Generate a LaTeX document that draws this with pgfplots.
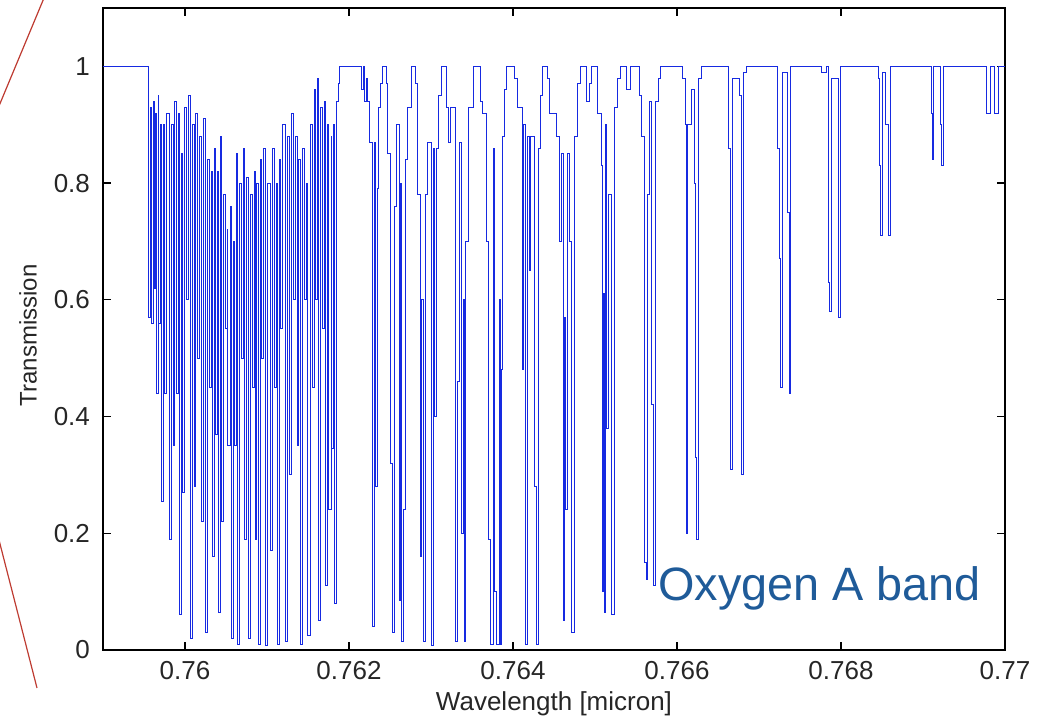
\documentclass[border=0pt]{standalone}
\usepackage{pgfplots}
\pgfplotsset{compat=1.18}
\usepackage{fontspec}
\setmainfont{Liberation Sans}
\definecolor{specblue}{RGB}{22,42,225}
\definecolor{labelblue}{RGB}{31,91,153}
\definecolor{slidered}{RGB}{190,60,50}
\begin{document}
\begin{tikzpicture}
\useasboundingbox (-51.5pt,-34pt) rectangle (468.5pt,325pt);
\begin{axis}[
  at={(0pt,0pt)}, anchor=south west,
  scale only axis, width=451pt, height=321pt,
  xmin=0.759, xmax=0.770, ymin=0, ymax=1.1,
  xtick={0.760,0.762,0.764,0.766,0.768,0.770},
  xticklabels={0.76,0.762,0.764,0.766,0.768,0.77},
  ytick={0,0.2,0.4,0.6,0.8,1},
  yticklabels={0,0.2,0.4,0.6,0.8,1},
  scaled x ticks=false, scaled y ticks=false,
  /pgf/number format/assume math mode=true,
  tick align=inside, major tick length=4pt,
  tick style={black, line width=0.6pt},
  axis line style={black, line width=0.7pt},
  ticklabel style={font=\fontsize{13}{15}\selectfont, text=black!85},
  xticklabel style={yshift=-2pt},
  yticklabel style={xshift=-3pt},
  xlabel={Wavelength [micron]}, ylabel={Transmission},
  xlabel style={at={(axis description cs:0.5,-0.083)}, anchor=center, font=\fontsize{13}{15}\selectfont, text=black!85},
  ylabel style={at={(axis description cs:-0.083,0.49)}, anchor=center, font=\fontsize{12}{14}\selectfont, text=black!85},
  clip=true,
]
\addplot[const plot, color=specblue, line width=0.5pt] table {
x y
0.7590000 1.00
0.7595488 0.57
0.7595732 0.93
0.7595854 0.56
0.7596098 0.94
0.7596220 0.62
0.7596463 0.92
0.7596524 0.44
0.7596768 0.95
0.7596829 0.56
0.7597073 0.90
0.7597134 0.255
0.7597378 0.90
0.7597561 0.44
0.7597805 0.92
0.7598049 0.19
0.7598293 0.90
0.7598537 0.35
0.7598780 0.94
0.7598963 0.44
0.7599207 0.92
0.7599390 0.06
0.7599634 0.85
0.7599756 0.27
0.7600000 0.93
0.7600183 0.60
0.7600427 0.95
0.7600671 0.02
0.7600915 0.90
0.7601098 0.28
0.7601341 0.92
0.7601585 0.50
0.7601829 0.88
0.7602073 0.22
0.7602317 0.91
0.7602500 0.03
0.7602744 0.84
0.7602927 0.45
0.7603171 0.82
0.7603354 0.16
0.7603598 0.86
0.7603780 0.37
0.7604024 0.82
0.7604146 0.065
0.7604390 0.88
0.7604512 0.22
0.7604756 0.78
0.7604939 0.55
0.7605183 0.72
0.7605244 0.35
0.7605488 0.76
0.7605610 0.02
0.7605854 0.70
0.7605976 0.35
0.7606220 0.85
0.7606463 0.01
0.7606707 0.80
0.7606951 0.50
0.7607195 0.86
0.7607317 0.19
0.7607561 0.81
0.7607744 0.02
0.7607988 0.78
0.7608171 0.45
0.7608415 0.82
0.7608537 0.19
0.7608780 0.80
0.7608963 0.01
0.7609207 0.84
0.7609390 0.50
0.7609634 0.86
0.7609878 0.007
0.7610122 0.80
0.7610366 0.17
0.7610610 0.86
0.7610854 0.45
0.7611098 0.80
0.7611280 0.01
0.7611524 0.84
0.7611707 0.55
0.7611951 0.90
0.7612317 0.015
0.7612561 0.88
0.7612744 0.30
0.7612988 0.92
0.7613171 0.60
0.7613415 0.88
0.7613659 0.35
0.7613902 0.84
0.7614146 0.01
0.7614390 0.86
0.7614573 0.60
0.7614817 0.80
0.7615000 0.025
0.7615244 0.90
0.7615488 0.45
0.7615732 0.96
0.7615854 0.60
0.7616098 0.98
0.7616341 0.05
0.7616585 0.93
0.7616829 0.55
0.7617073 0.94
0.7617195 0.11
0.7617439 0.90
0.7617561 0.24
0.7617805 0.88
0.7617866 0.345
0.7618110 0.90
0.7618232 0.08
0.7618476 0.94
0.7618659 0.97
0.7618902 1.00
0.7621585 0.96
0.7621829 1.00
0.7621951 0.94
0.7622195 0.98
0.7622317 0.94
0.7622561 0.87
0.7622866 0.04
0.7623110 0.87
0.7623232 0.28
0.7623415 0.79
0.7623598 0.93
0.7623902 0.97
0.7624146 1.00
0.7624634 0.97
0.7624756 0.85
0.7625061 0.32
0.7625244 0.03
0.7625549 0.76
0.7625732 0.90
0.7626098 0.085
0.7626341 0.80
0.7626463 0.015
0.7626707 0.24
0.7626951 0.84
0.7627195 0.93
0.7627561 1.00
0.7628049 0.97
0.7628293 0.78
0.7628720 0.16
0.7628902 0.60
0.7629146 0.015
0.7629390 0.78
0.7629634 0.87
0.7630000 0.007
0.7630244 0.86
0.7630366 0.40
0.7630610 0.86
0.7630854 0.95
0.7631220 1.00
0.7631951 0.93
0.7632195 0.87
0.7632439 0.93
0.7632927 0.015
0.7633171 0.46
0.7633415 0.87
0.7633780 0.20
0.7633963 0.60
0.7634085 0.015
0.7634268 0.70
0.7634634 0.93
0.7635122 1.00
0.7635976 0.94
0.7636220 0.92
0.7636829 0.70
0.7637073 0.19
0.7637317 0.01
0.7637561 0.86
0.7637744 0.10
0.7637927 0.01
0.7638293 0.60
0.7638415 0.01
0.7638598 0.48
0.7638780 0.88
0.7639024 0.96
0.7639268 1.00
0.7640122 0.98
0.7640488 0.93
0.7641098 0.48
0.7641341 0.90
0.7641585 0.01
0.7641829 0.88
0.7642012 0.65
0.7642195 0.88
0.7642561 0.28
0.7642805 0.01
0.7643049 0.86
0.7643293 0.95
0.7643537 1.00
0.7644268 0.98
0.7644512 0.92
0.7645244 0.88
0.7645610 0.70
0.7645854 0.85
0.7646098 0.05
0.7646341 0.57
0.7646463 0.24
0.7646707 0.85
0.7646951 0.70
0.7647195 0.03
0.7647439 0.88
0.7647805 0.97
0.7648171 1.00
0.7649024 0.94
0.7649390 0.97
0.7649634 1.00
0.7650244 0.92
0.7650732 0.83
0.7650854 0.10
0.7651037 0.61
0.7651098 0.065
0.7651280 0.90
0.7651463 0.38
0.7651707 0.78
0.7652073 0.06
0.7652317 0.93
0.7652683 0.98
0.7653049 1.00
0.7653902 0.96
0.7654390 1.00
0.7655366 0.95
0.7655610 0.88
0.7655976 0.15
0.7656220 0.12
0.7656463 0.78
0.7656707 0.94
0.7656951 0.42
0.7657134 0.11
0.7657378 0.94
0.7657683 0.98
0.7657927 1.00
0.7660610 0.98
0.7660976 0.90
0.7661098 0.20
0.7661341 0.90
0.7661829 0.96
0.7662073 0.80
0.7662256 0.33
0.7662378 0.19
0.7662561 0.98
0.7662927 1.00
0.7666341 0.86
0.7666585 0.31
0.7666829 0.98
0.7667561 0.95
0.7667805 0.30
0.7668049 0.99
0.7668415 1.00
0.7672195 0.86
0.7672439 0.67
0.7672561 0.45
0.7672805 0.99
0.7673415 0.75
0.7673659 0.44
0.7673902 1.00
0.7677561 0.99
0.7678171 1.00
0.7678415 0.63
0.7678598 0.58
0.7678841 0.98
0.7679634 0.57
0.7679878 1.00
0.7684512 0.98
0.7684695 0.83
0.7684817 0.71
0.7685061 0.99
0.7685366 0.90
0.7685732 0.71
0.7685976 1.00
0.7690976 0.92
0.7691159 0.84
0.7691341 1.00
0.7692134 0.90
0.7692256 0.83
0.7692439 1.00
0.7697683 0.92
0.7698171 1.00
0.7698720 0.92
0.7699146 1.00
0.7700000 1.00
};
\node[anchor=base west, text=labelblue, font=\fontsize{23.4}{26}\selectfont, inner sep=0pt] at (axis cs:0.765768,0.0842) {Oxygen A band};
\end{axis}
\draw[slidered, line width=0.6pt] (-29.5pt,326pt) -- (-52pt,272pt);
\draw[slidered, line width=0.6pt] (-52pt,55pt) -- (-33pt,-19pt);
\end{tikzpicture}
\end{document}
